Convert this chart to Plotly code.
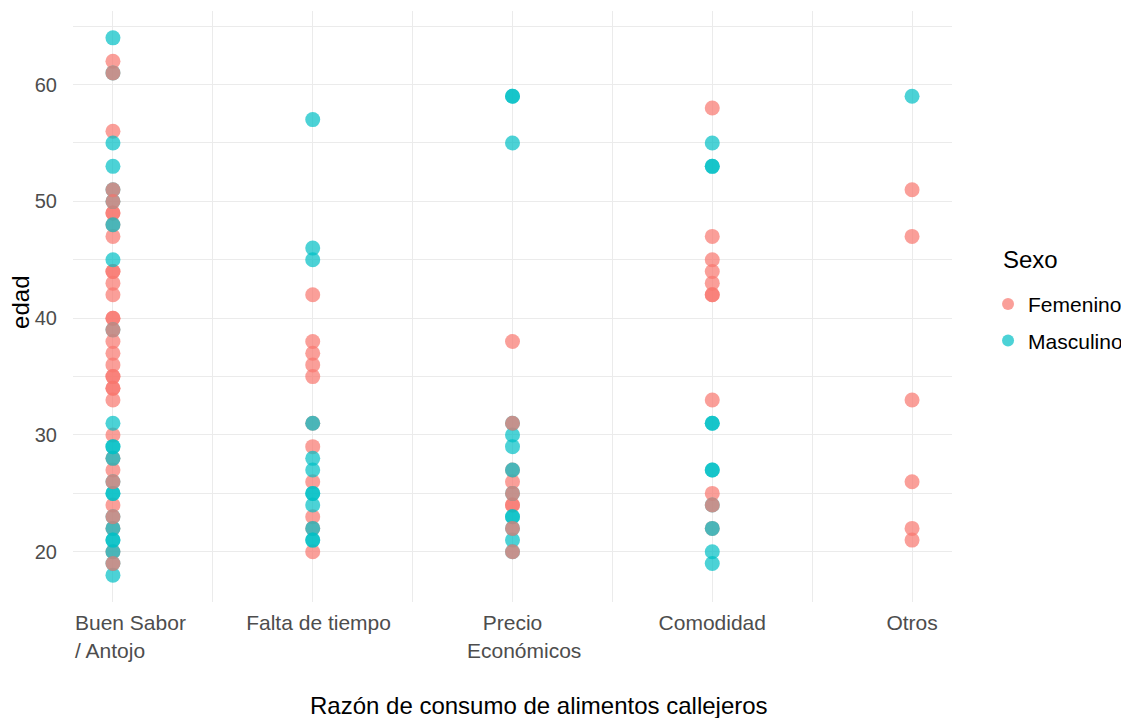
import plotly.graph_objects as go

categories = ["Buen Sabor / Antojo", "Falta de tiempo", "Precio Económicos", "Comodidad", "Otros"]
NB = "\u00a0"
tick_labels = [NB * 6 + "Buen Sabor<br>/ Antojo" + NB,
               NB * 2 + "Falta de tiempo",
               "Precio<br>" + NB * 4 + "Económicos",
               "Comodidad",
               "Otros"]
x_title = "Razón de consumo de alimentos callejeros"
y_title = "edad"
legend_title = "Sexo"

# Femenino ages drawn below the Masculino points
fem_buen = [62, 56, 49, 49, 47, 44, 44, 43, 42, 40, 40, 38, 37, 36, 35, 35, 34, 34, 33, 30, 27, 24, 48, 28, 22, 20]
fem_falta = [42, 38, 37, 36, 35, 31, 29, 26, 23, 22, 20]
fem_precio = [38, 26, 24, 24, 27]
fem_comod = [58, 47, 45, 44, 43, 42, 42, 33, 25, 22]
fem_otros = [51, 47, 33, 26, 22, 21]

# Femenino ages drawn above the Masculino points
fem_top_buen = [61, 51, 50, 39, 26, 23, 19]
fem_top_precio = [31, 25, 22, 20]
fem_top_comod = [24]

# Masculino ages
mas_buen = [64, 61, 55, 53, 51, 50, 48, 45, 39, 31, 29, 29, 28, 26, 25, 25, 23, 22, 21, 21, 20, 19, 18]
mas_falta = [57, 46, 45, 31, 28, 27, 25, 25, 24, 22, 21, 21]
mas_precio = [59, 59, 55, 31, 30, 29, 27, 25, 23, 23, 22, 21, 20]
mas_comod = [55, 53, 53, 31, 31, 27, 27, 24, 22, 20, 19]
mas_otros = [59]

fem_groups = [fem_buen, fem_falta, fem_precio, fem_comod, fem_otros]
fem_top_groups = [fem_top_buen, [], fem_top_precio, fem_top_comod, []]
mas_groups = [mas_buen, mas_falta, mas_precio, mas_comod, mas_otros]

FEM = "rgba(248,118,109,0.7)"
MAS = "rgba(0,191,196,0.7)"
GRID = "#EBEBEB"
FONT = "Liberation Sans, Arial, sans-serif"
MS = 15


def flatten(groups):
    xs, ys = [], []
    for i, g in enumerate(groups):
        xs += [i + 1] * len(g)
        ys += g
    return xs, ys


fig = go.Figure()
x, y = flatten(fem_groups)
fig.add_trace(go.Scatter(x=x, y=y, mode="markers", name="Femenino", legendgroup="F",
                         marker=dict(color=FEM, size=MS, line=dict(width=0))))
x, y = flatten(mas_groups)
fig.add_trace(go.Scatter(x=x, y=y, mode="markers", name="Masculino", legendgroup="M",
                         marker=dict(color=MAS, size=MS, line=dict(width=0))))
x, y = flatten(fem_top_groups)
fig.add_trace(go.Scatter(x=x, y=y, mode="markers", name="Femenino", legendgroup="F", showlegend=False,
                         marker=dict(color=FEM, size=MS, line=dict(width=0))))

# the page body has an 8px margin, so the figure is 8px smaller than the window
fig.update_layout(
    width=1121, height=710,
    margin=dict(l=65, r=177, t=3, b=116, autoexpand=False),
    paper_bgcolor="white", plot_bgcolor="white",
    font=dict(family=FONT, color="#4D4D4D"),
    showlegend=True,
    legend=dict(
        font=dict(size=21, color="black"),
        x=1.041, xanchor="left", y=0.473, yanchor="middle",
        itemsizing="constant", tracegroupgap=6,
    ),
    xaxis=dict(
        range=[0.8, 5.2], tickmode="array", tickvals=[1, 2, 3, 4, 5], ticktext=tick_labels,
        showgrid=True, gridcolor=GRID, gridwidth=1.1, zeroline=False, showline=False,
        ticks="outside", ticklen=2, tickcolor="rgba(0,0,0,0)", automargin=False,
        tickfont=dict(size=21, color="#4D4D4D"),
        minor=dict(tickvals=[1.5, 2.5, 3.5, 4.5], showgrid=True, gridcolor=GRID, gridwidth=0.6, ticks=""),
    ),
    yaxis=dict(
        range=[15.7, 66.3], tickmode="array", tickvals=[20, 30, 40, 50, 60],
        showgrid=True, gridcolor=GRID, gridwidth=1.1, zeroline=False, showline=False,
        ticks="outside", ticklen=11, tickcolor="rgba(0,0,0,0)", automargin=False,
        tickfont=dict(size=20, color="#4D4D4D"),
        minor=dict(tickvals=[25, 35, 45, 55, 65], showgrid=True, gridcolor=GRID, gridwidth=0.6, ticks=""),
    ),
    annotations=[
        dict(text=legend_title, x=1.0557, y=0.5787, xref="paper", yref="paper",
             xanchor="left", yanchor="middle", showarrow=False,
             font=dict(size=24, color="black", family=FONT)),
        dict(text=x_title, x=0.530, y=-0.1743, xref="paper", yref="paper",
             xanchor="center", yanchor="middle", showarrow=False,
             font=dict(size=24, color="black", family=FONT)),
        dict(text=y_title, x=-0.0597, y=0.507, xref="paper", yref="paper", textangle=-90,
             xanchor="center", yanchor="middle", showarrow=False,
             font=dict(size=24, color="black", family=FONT)),
    ],
)

fig.write_html("out.html")
